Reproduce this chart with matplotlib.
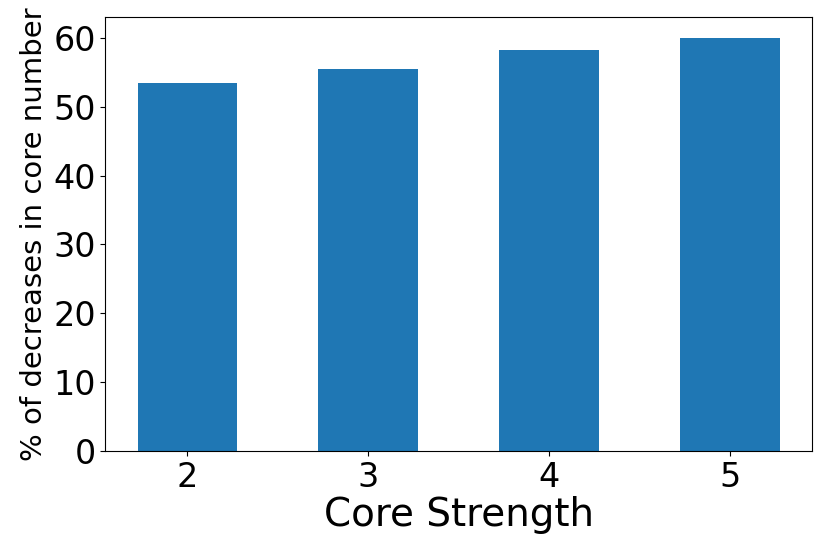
import matplotlib
matplotlib.use("Agg")
import matplotlib.pyplot as plt

categories = ["2", "3", "4", "5"]
values = [53.4, 55.5, 58.3, 60.0]

fig = plt.figure(figsize=(8.3, 5.54), dpi=100)
ax = fig.add_axes([0.127, 0.186, 0.851, 0.783])
x = [int(c) for c in categories]
ax.bar(x, values, width=0.55, color="#1f77b4")
ax.set_xticks(x)
ax.set_xticklabels(categories)
ax.tick_params(axis="both", labelsize=24)
ax.set_yticks([0, 10, 20, 30, 40, 50, 60])
ax.set_xlabel("Core Strength", fontsize=28, labelpad=2)
ax.set_ylabel("% of decreases in core number", fontsize=21)
fig.savefig("out.png", dpi=100)
